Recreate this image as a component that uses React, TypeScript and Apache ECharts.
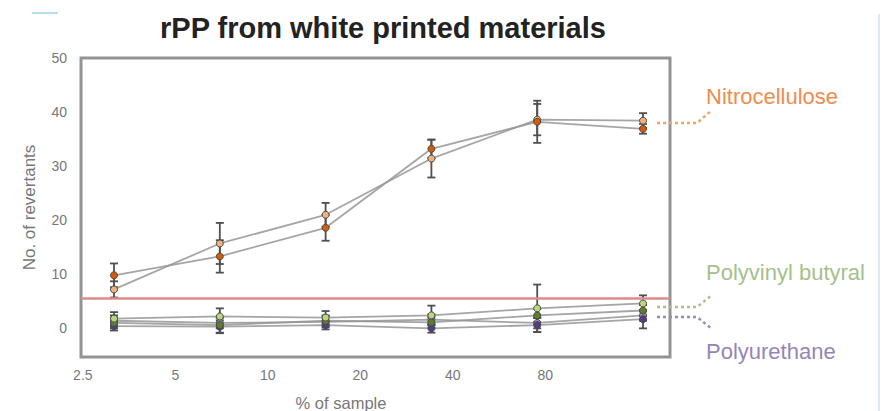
import React, { useEffect, useRef } from "react";
import * as echarts from "echarts";

// ---- data ----
const xLabels = ["2.5", "5", "10", "20", "40", "80"];
const doseIndex = [0, 1, 2, 3, 4, 5];
const yTicks = [0, 10, 20, 30, 40, 50];
const threshold = 5.5;

const nitroDark = [9.8, 13.3, 18.6, 33.2, 38.2, 36.9];
const nitroDarkErr = [2.2, 3.0, 2.4, 1.7, 3.9, 0.9];
const nitroLight = [7.2, 15.7, 21.0, 31.4, 38.6, 38.4];
const nitroLightErr = [1.5, 3.8, 2.2, 3.5, 2.9, 1.4];
const pvbLight = [1.8, 2.2, 2.0, 2.4, 3.7, 4.6];
const pvbLightErr = [1.2, 1.5, 1.2, 1.8, 4.4, 1.5];
const pvbDark = [1.0, 0.6, 1.4, 1.1, 2.4, 3.3];
const pvbDarkErr = [1.0, 1.4, 1.0, 1.0, 1.2, 1.0];
const puDark = [0.4, 0.3, 0.6, 0.0, 0.6, 1.7];
const puDarkErr = [0.8, 1.2, 0.8, 0.8, 1.3, 1.7];
const puLight = [1.4, 1.0, 1.2, 1.6, 1.0, 2.4];
const puLightErr = [1.0, 1.0, 1.0, 1.0, 1.0, 1.0];

const FONT = "Liberation Sans, Arial, sans-serif";

type S = { name: string; values: number[]; err: number[]; color: string };
const seriesDefs: S[] = [
  { name: "PU light", values: puLight, err: puLightErr, color: "#9b8bc0" },
  { name: "PU dark", values: puDark, err: puDarkErr, color: "#553a88" },
  { name: "PVB dark", values: pvbDark, err: pvbDarkErr, color: "#5e7d2a" },
  { name: "PVB light", values: pvbLight, err: pvbLightErr, color: "#bcd67e" },
  { name: "NC light", values: nitroLight, err: nitroLightErr, color: "#f4b07a" },
  { name: "NC dark", values: nitroDark, err: nitroDarkErr, color: "#d95a00" },
];

export default function App() {
  const ref = useRef<HTMLDivElement>(null);
  useEffect(() => {
    document.body.style.margin = "0";
    const chart = echarts.init(ref.current!, undefined, { renderer: "svg" });
    const series: any[] = [];
    seriesDefs.forEach((s) => {
      series.push({
        type: "custom",
        name: s.name + " err",
        xAxisIndex: 0,
        yAxisIndex: 0,
        z: 1,
        silent: true,
        encode: { x: 0, y: [1, 2] },
        data: doseIndex.map((x, i) => [x, s.values[i] - s.err[i], s.values[i] + s.err[i]]),
        renderItem: (params: any, api: any) => {
          const x = api.value(0);
          const lo = api.coord([x, api.value(1)]);
          const hi = api.coord([x, api.value(2)]);
          const w = 4;
          const style = { stroke: "#4f4f4f", lineWidth: 1.8 };
          return {
            type: "group",
            children: [
              { type: "line", shape: { x1: lo[0], y1: lo[1], x2: hi[0], y2: hi[1] }, style },
              { type: "line", shape: { x1: lo[0] - w, y1: lo[1], x2: lo[0] + w, y2: lo[1] }, style },
              { type: "line", shape: { x1: hi[0] - w, y1: hi[1], x2: hi[0] + w, y2: hi[1] }, style },
            ],
          };
        },
      });
    });
    seriesDefs.forEach((s) => {
      series.push({
        type: "line",
        name: s.name,
        xAxisIndex: 0,
        yAxisIndex: 0,
        z: 3,
        data: doseIndex.map((x, i) => [x, s.values[i]]),
        symbol: "circle",
        symbolSize: 7,
        lineStyle: { color: "#959595", width: 1.8, opacity: 0.85 },
        itemStyle: { color: s.color, borderColor: "#4a4a4a", borderWidth: 1 },
      });
    });
    series.push({
      type: "line",
      name: "threshold",
      xAxisIndex: 0,
      yAxisIndex: 0,
      data: [],
      z: 2,
      markLine: {
        silent: true,
        symbol: "none",
        label: { show: false },
        lineStyle: { color: "#e08a8a", width: 2.5, type: "solid" },
        data: [{ yAxis: threshold }],
      },
    });

    const axisGray = "#777777";
    chart.setOption({
      animation: false,
      backgroundColor: "#ffffff",
      textStyle: { fontFamily: FONT },
      title: {
        text: "rPP from white printed materials",
        left: 378,
        textAlign: "center",
        top: 8,
        textStyle: { fontSize: 29, fontWeight: "bold", color: "#222", fontFamily: FONT },
      },
      grid: {
        left: 81,
        top: 58,
        width: 589,
        height: 299,
        show: true,
        borderColor: "#939393",
        borderWidth: 3,
        backgroundColor: "transparent",
      },
      xAxis: [
        {
          type: "value",
          min: -0.312,
          max: 5.255,
          axisLine: { show: false },
          axisTick: { show: false },
          axisLabel: { show: false },
          splitLine: { show: false },
        },
        {
          type: "value",
          position: "bottom",
          min: -0.02,
          max: 6.35,
          axisLine: { show: false },
          axisTick: { show: false },
          splitLine: { show: false },
          axisLabel: {
            customValues: doseIndex,
            formatter: (v: number) => xLabels[Math.round(v)],
            color: axisGray,
            fontSize: 14,
            margin: 11,
            fontFamily: FONT,
          },
        },
      ],
      yAxis: {
        type: "value",
        min: -5.3,
        max: 50,
        name: "No. of revertants",
        nameLocation: "middle",
        nameGap: 43,
        nameTextStyle: { color: axisGray, fontSize: 17, fontFamily: FONT },
        axisLine: { show: false },
        axisTick: { show: false },
        splitLine: { show: false },
        axisLabel: {
          customValues: yTicks,
          color: axisGray,
          fontSize: 14,
          margin: 14,
          fontFamily: FONT,
        },
      },
      graphic: [
        { type: "line", shape: { x1: 32, y1: 13, x2: 58, y2: 13 }, style: { stroke: "#b8dcf0", lineWidth: 2 } },
        { type: "line", shape: { x1: 879, y1: 14, x2: 879, y2: 411 }, style: { stroke: "#dceaf8", lineWidth: 2 } },
        {
          type: "text",
          x: 341,
          y: 403,
          style: { text: "% of sample", fill: axisGray, fontSize: 16.5, fontFamily: FONT, align: "center", verticalAlign: "middle" },
        },
        {
          type: "polyline",
          shape: { points: [[657, 123], [697, 123], [712, 110]] },
          style: { stroke: "#f4a36a", lineWidth: 2.5, lineDash: [3, 3], fill: null },
        },
        {
          type: "polyline",
          shape: { points: [[657, 307], [697, 307], [712, 295]] },
          style: { stroke: "#a9c48a", lineWidth: 2.5, lineDash: [3, 3], fill: null },
        },
        {
          type: "polyline",
          shape: { points: [[657, 317], [697, 317], [712, 329]] },
          style: { stroke: "#9a8ab8", lineWidth: 2.5, lineDash: [3, 3], fill: null },
        },
        {
          type: "text",
          x: 706,
          y: 96,
          style: { text: "Nitrocellulose", fill: "#f08c50", fontSize: 22, fontFamily: FONT, verticalAlign: "middle" },
        },
        {
          type: "text",
          x: 706,
          y: 272,
          style: { text: "Polyvinyl butyral", fill: "#a6c08a", fontSize: 22, fontFamily: FONT, verticalAlign: "middle" },
        },
        {
          type: "text",
          x: 706,
          y: 351,
          style: { text: "Polyurethane", fill: "#9585b5", fontSize: 22, fontFamily: FONT, verticalAlign: "middle" },
        },
      ],
      series,
    });
    return () => chart.dispose();
  }, []);
  return <div ref={ref} style={{ width: 887, height: 411, position: "absolute", left: 0, top: 0 }} />;
}
